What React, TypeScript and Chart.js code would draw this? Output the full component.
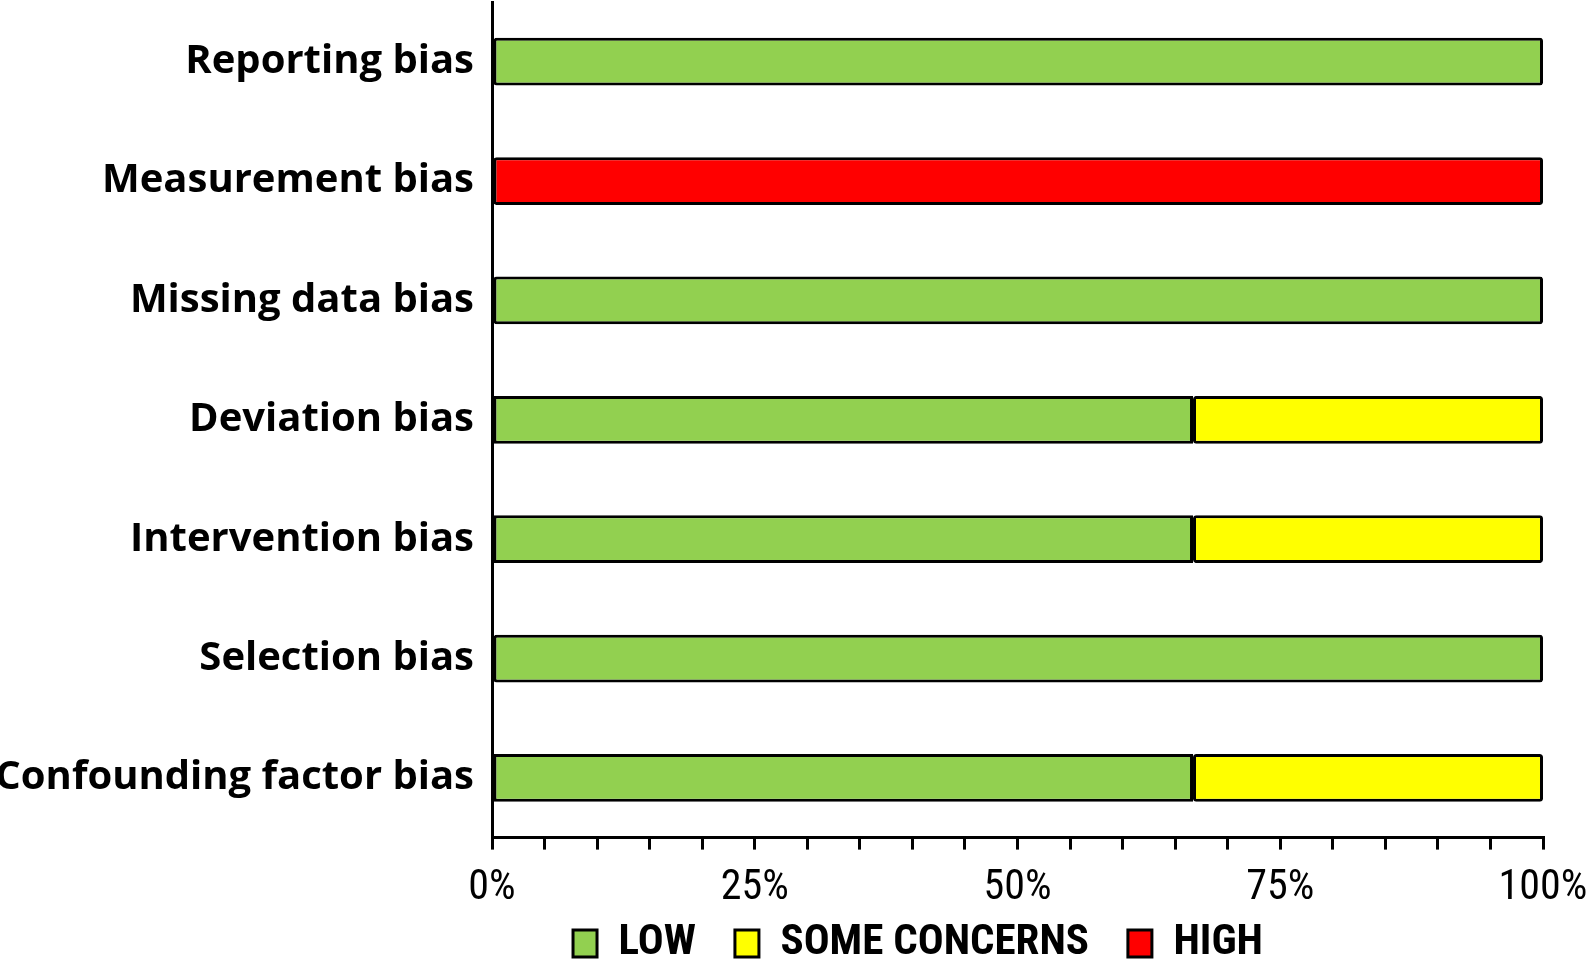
import React, { useEffect, useRef } from "react";
import { Chart, registerables } from "chart.js";

Chart.register(...registerables);

const categories = [
  "Reporting bias",
  "Measurement bias",
  "Missing data bias",
  "Deviation bias",
  "Intervention bias",
  "Selection bias",
  "Confounding factor bias",
];
const lowValues = [100, null, 100, 66.7, 66.7, 100, 66.7];
const someConcernsValues = [null, null, null, 33.3, 33.3, null, 33.3];
const highValues = [null, 100, null, null, null, null, null];
const seriesNames = ["LOW", "SOME CONCERNS", "HIGH"];
const seriesColors = ["#92D050", "#FFFF00", "#FF0000"];
const majorTicks = [0, 25, 50, 75, 100];

const NARROW = "'Liberation Sans Narrow', 'Arial Narrow', 'Roboto Condensed', Lato, sans-serif";

const legendShift = {
  id: "legendShift",
  afterLayout(chart: any) {
    const lg = chart.legend;
    if (!lg) return;
    lg.left += 293;
    lg.top -= 45;
    lg.bottom = chart.height;
    lg.height = lg.bottom - lg.top;
    lg.width = lg.right - lg.left;
  },
};

export default function App() {
  const ref = useRef<HTMLCanvasElement | null>(null);

  useEffect(() => {
    if (!ref.current) return;
    const values = [lowValues, someConcernsValues, highValues];
    const chart = new Chart(ref.current, {
      type: "bar",
      data: {
        labels: categories,
        datasets: seriesNames.map((name, i) => ({
          label: name,
          data: values[i],
          backgroundColor: seriesColors[i],
          borderColor: "#000000",
          borderWidth: 3,
          borderRadius: 3,
          borderSkipped: false,
          categoryPercentage: 1,
          barPercentage: 0.4,
        })),
      },
      options: {
        indexAxis: "y",
        responsive: true,
        maintainAspectRatio: false,
        animation: false,
        layout: { padding: { top: 2, right: 50, left: 0, bottom: 0 } },
        scales: {
          x: {
            type: "linear",
            stacked: true,
            min: 0,
            max: 100,
            afterFit: (s: any) => {
              s.paddingRight = 0;
            },
            ticks: {
              stepSize: 5,
              autoSkip: false,
              maxRotation: 0,
              padding: 14,
              color: "#000000",
              font: { family: NARROW, size: 42 },
              callback: (v: any) => (majorTicks.includes(Number(v)) ? v + "%" : ""),
            },
            grid: {
              display: true,
              drawOnChartArea: false,
              drawTicks: true,
              tickLength: 12,
              color: "#000000",
              lineWidth: 3,
            },
            border: { display: true, color: "#000000", width: 3 },
          },
          y: {
            type: "category",
            stacked: true,
            afterFit: (s: any) => {
              s.width = 492;
              s.paddingTop = 0;
              s.paddingBottom = 0;
            },
            ticks: {
              padding: 18,
              color: "#000000",
              font: { family: "'Open Sans', Lato, sans-serif", size: 40, weight: "bold" },
            },
            grid: { display: false, drawTicks: false },
            border: { display: true, color: "#000000", width: 3 },
          },
        },
        plugins: {
          legend: {
            position: "bottom",
            maxHeight: 32,
            labels: {
              boxWidth: 24,
              boxHeight: 27,
              padding: 39,
              color: "#000000",
              font: { family: NARROW, size: 43, weight: "bold" },
            },
          },
          tooltip: { enabled: false },
        },
      },
      plugins: [legendShift],
    });
    return () => chart.destroy();
  }, []);

  return (
    <div style={{ position: "absolute", left: 0, top: 0, width: "1593px", height: "960px", background: "#ffffff" }}>
      <canvas ref={ref} />
    </div>
  );
}
